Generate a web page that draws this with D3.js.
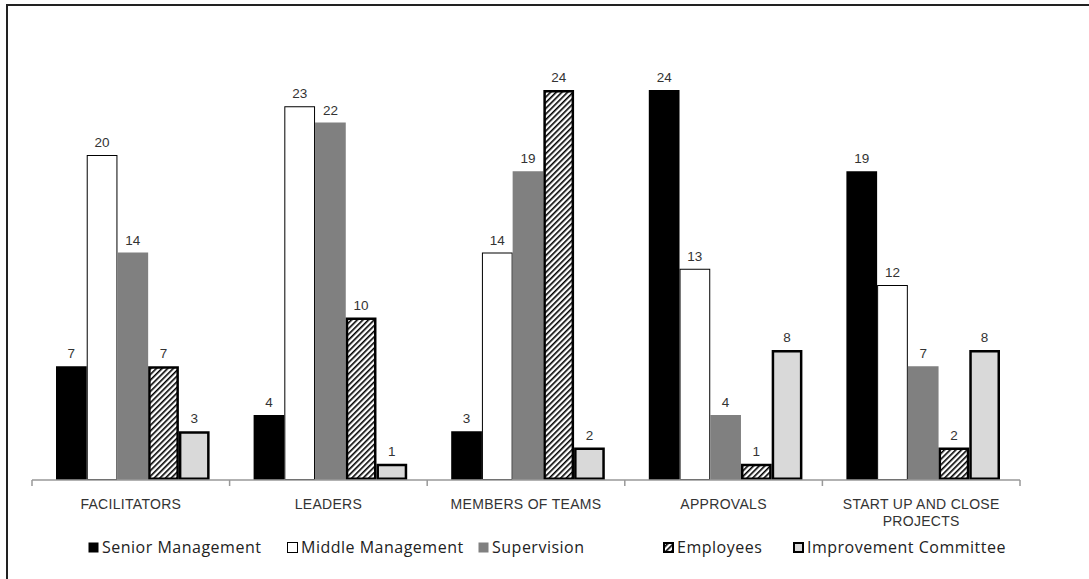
<!DOCTYPE html>
<html>
<head>
<meta charset="utf-8">
<script src="https://cdn.jsdelivr.net/npm/d3@7"></script>
<style>
  body { margin: 0; background: #fff; }
  svg { display: block; }
</style>
</head>
<body>
<div id="chart"></div>
<script>
// categories along the x axis (lines split for wrapping)
const categories = ["FACILITATORS", "LEADERS", "MEMBERS OF TEAMS", "APPROVALS", "START UP AND CLOSE PROJECTS"];
const categoryLines = [["FACILITATORS"], ["LEADERS"], ["MEMBERS OF TEAMS"], ["APPROVALS"], ["START UP AND CLOSE", "PROJECTS"]];

// series names and values per category
const seriesNames = ["Senior Management", "Middle Management", "Supervision", "Employees", "Improvement Committee"];
const seniorManagement = [7, 4, 3, 24, 19];
const middleManagement = [20, 23, 14, 13, 12];
const supervision = [14, 22, 19, 4, 7];
const employees = [7, 10, 24, 1, 2];
const improvementCommittee = [3, 1, 2, 8, 8];

const seriesValues = [seniorManagement, middleManagement, supervision, employees, improvementCommittee];

const W = 1089, H = 579;
const margin = { top: 90, right: 69, bottom: 99, left: 32 };
const width = W - margin.left - margin.right;
const height = H - margin.top - margin.bottom;

const svg = d3.select("#chart").append("svg")
  .attr("width", W)
  .attr("height", H);

// hatch pattern for Employees
const defs = svg.append("defs");
defs.append("pattern")
  .attr("id", "hatch")
  .attr("patternUnits", "userSpaceOnUse")
  .attr("width", 4)
  .attr("height", 4)
  .attr("patternTransform", "rotate(45)")
  .call(p => {
    p.append("rect").attr("width", 4).attr("height", 4).attr("fill", "#fff");
    p.append("rect").attr("width", 1.6).attr("height", 4).attr("fill", "#000");
  });

// styles per series
const styles = [
  { fill: "#000", stroke: "none", sw: 0 },
  { fill: "#fff", stroke: "#000", sw: 1 },
  { fill: "#808080", stroke: "none", sw: 0 },
  { fill: "url(#hatch)", stroke: "#000", sw: 2.5 },
  { fill: "#d9d9d9", stroke: "#000", sw: 2.5 }
];

// outer frame (only left and top fall inside the picture)
svg.append("rect")
  .attr("x", 7).attr("y", 5)
  .attr("width", W + 20).attr("height", H + 20)
  .attr("fill", "none")
  .attr("stroke", "#222")
  .attr("stroke-width", 2);

const g = svg.append("g").attr("transform", `translate(${margin.left},${margin.top})`);

const x0 = d3.scaleBand().domain(categories).range([0, width]).paddingInner(0).paddingOuter(0);
const x1 = d3.scaleBand().domain(seriesNames).range([24, x0.bandwidth() - 20]).padding(0);
const y = d3.scaleLinear().domain([0, 24]).range([height, 0]);

// bars
categories.forEach((cat, ci) => {
  const cg = g.append("g").attr("transform", `translate(${x0(cat)},0)`);
  seriesNames.forEach((name, si) => {
    const v = seriesValues[si][ci];
    const st = styles[si];
    const inset = st.sw / 2;
    cg.append("rect")
      .attr("x", x1(name) + inset)
      .attr("y", y(v) + inset)
      .attr("width", x1.bandwidth() - 2 * inset)
      .attr("height", Math.max(0, height - y(v) - 2 * inset))
      .attr("fill", st.fill)
      .attr("stroke", st.stroke)
      .attr("stroke-width", st.sw);
    cg.append("text")
      .attr("x", x1(name) + x1.bandwidth() / 2)
      .attr("y", y(v) - 8)
      .attr("text-anchor", "middle")
      .attr("font-family", "Liberation Sans, Arial, sans-serif")
      .attr("font-size", 13.5)
      .attr("fill", "#333")
      .text(v);
  });
});

// x axis
const xAxis = g.append("g").attr("transform", `translate(0,${height})`);
xAxis.append("line")
  .attr("x1", 0).attr("x2", width)
  .attr("stroke", "#999").attr("stroke-width", 1.5);
const tickPos = categories.map(c => x0(c)).concat([width]);
xAxis.selectAll("line.tick")
  .data(tickPos)
  .enter().append("line")
  .attr("class", "tick")
  .attr("x1", d => d).attr("x2", d => d)
  .attr("y1", 0).attr("y2", 6)
  .attr("stroke", "#999").attr("stroke-width", 1.5);

categories.forEach((cat, ci) => {
  const t = xAxis.append("text")
    .attr("x", x0(cat) + x0.bandwidth() / 2)
    .attr("y", 29)
    .attr("text-anchor", "middle")
    .attr("font-family", "Liberation Sans, Arial, sans-serif")
    .attr("font-size", 14)
    .attr("letter-spacing", 0.3)
    .attr("fill", "#333");
  categoryLines[ci].forEach((ln, li) => {
    t.append("tspan")
      .attr("x", x0(cat) + x0.bandwidth() / 2)
      .attr("dy", li === 0 ? 0 : 17)
      .text(ln);
  });
});

// legend
const legendX = [88, 287, 478, 663, 793];
const legend = svg.append("g").attr("transform", "translate(0,553)");
seriesNames.forEach((name, si) => {
  const st = styles[si];
  const lg = legend.append("g").attr("transform", `translate(${legendX[si]},0)`);
  const inset = st.sw > 1 ? 1 : 0.5;
  lg.append("rect")
    .attr("x", inset).attr("y", -11 + inset)
    .attr("width", 11 - 2 * inset).attr("height", 11 - 2 * inset)
    .attr("fill", st.fill)
    .attr("stroke", si === 1 ? "#000" : st.stroke)
    .attr("stroke-width", st.sw > 1 ? 2 : 1);
  lg.append("text")
    .attr("x", 14)
    .attr("y", 0)
    .attr("font-family", "Open Sans, Arial, sans-serif")
    .attr("font-size", 16)
    .attr("letter-spacing", 0.5)
    .attr("fill", "#222")
    .text(name);
});
</script>
</body>
</html>
